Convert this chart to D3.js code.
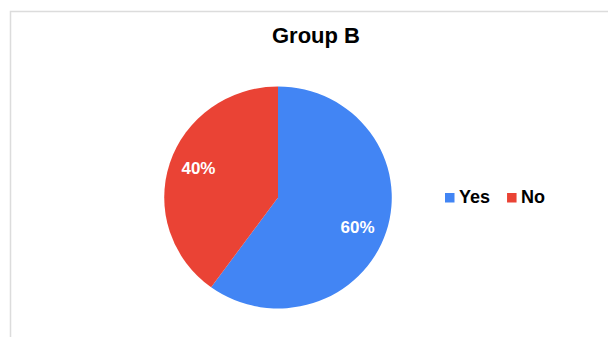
<!DOCTYPE html>
<html>
<head>
<meta charset="utf-8">
<script src="https://cdn.jsdelivr.net/npm/d3@7"></script>
<style>
  html, body { margin: 0; padding: 0; background: #fff; }
  svg { display: block; font-family: Arial, "Liberation Sans", sans-serif; }
</style>
</head>
<body>
<svg id="chart" width="608" height="337"></svg>
<script>
// Chart data
const title = "Group B";
const categories = ["Yes", "No"];
const values = [60, 40];
const colors = ["#4285F4", "#EA4335"];

const svg = d3.select("#chart");
const W = 608, H = 337;

// Card frame (top and left edges visible)
svg.append("rect")
  .attr("x", 10.5).attr("y", 11.5)
  .attr("width", W).attr("height", H)
  .attr("fill", "#fff")
  .attr("stroke", "#dcdcdc")
  .attr("stroke-width", 1.5);

// Title
svg.append("text")
  .attr("x", 316).attr("y", 42.5)
  .attr("text-anchor", "middle")
  .attr("font-size", 22)
  .attr("font-weight", "bold")
  .attr("fill", "#000")
  .text(title);

// Pie
const cx = 278, cy = 197.5, r = 111;
const color = d3.scaleOrdinal().domain(categories).range(colors);
const pie = d3.pie().sort(null).value(d => d.value);
const data = categories.map((c, i) => ({ name: c, value: values[i] }));
const arcs = pie(data);
const arc = d3.arc().innerRadius(0).outerRadius(r);
const total = d3.sum(values);

svg.append("g")
  .attr("transform", `translate(${cx},${cy}) scale(1.025,1)`)
  .selectAll("path")
  .data(arcs)
  .join("path")
  .attr("d", arc)
  .attr("fill", d => color(d.data.name));

// Percentage labels, set slightly clockwise of each slice's bisector
const labelR = r * 0.765, labelTurn = 2.5 * Math.PI / 180;
svg.append("g")
  .attr("transform", `translate(${cx},${cy})`)
  .selectAll("text")
  .data(arcs)
  .join("text")
  .attr("transform", d => {
    const a = (d.startAngle + d.endAngle) / 2 + labelTurn;
    return `translate(${labelR * Math.sin(a)},${-labelR * Math.cos(a)})`;
  })
  .attr("dy", "0.35em")
  .attr("text-anchor", "middle")
  .attr("font-size", 17)
  .attr("font-weight", "bold")
  .attr("fill", "#fff")
  .text(d => Math.round(d.data.value / total * 100) + "%");

// Legend
const legend = svg.append("g");
let lx = 445;
categories.forEach((c, i) => {
  legend.append("rect")
    .attr("x", lx).attr("y", 193)
    .attr("width", 9.5).attr("height", 9.5)
    .attr("fill", color(c));
  const t = legend.append("text")
    .attr("x", lx + 14).attr("y", 203)
    .attr("font-size", 18)
    .attr("font-weight", "bold")
    .attr("fill", "#000")
    .text(c);
  lx += 14 + t.node().getComputedTextLength() + 17;
});
</script>
</body>
</html>
